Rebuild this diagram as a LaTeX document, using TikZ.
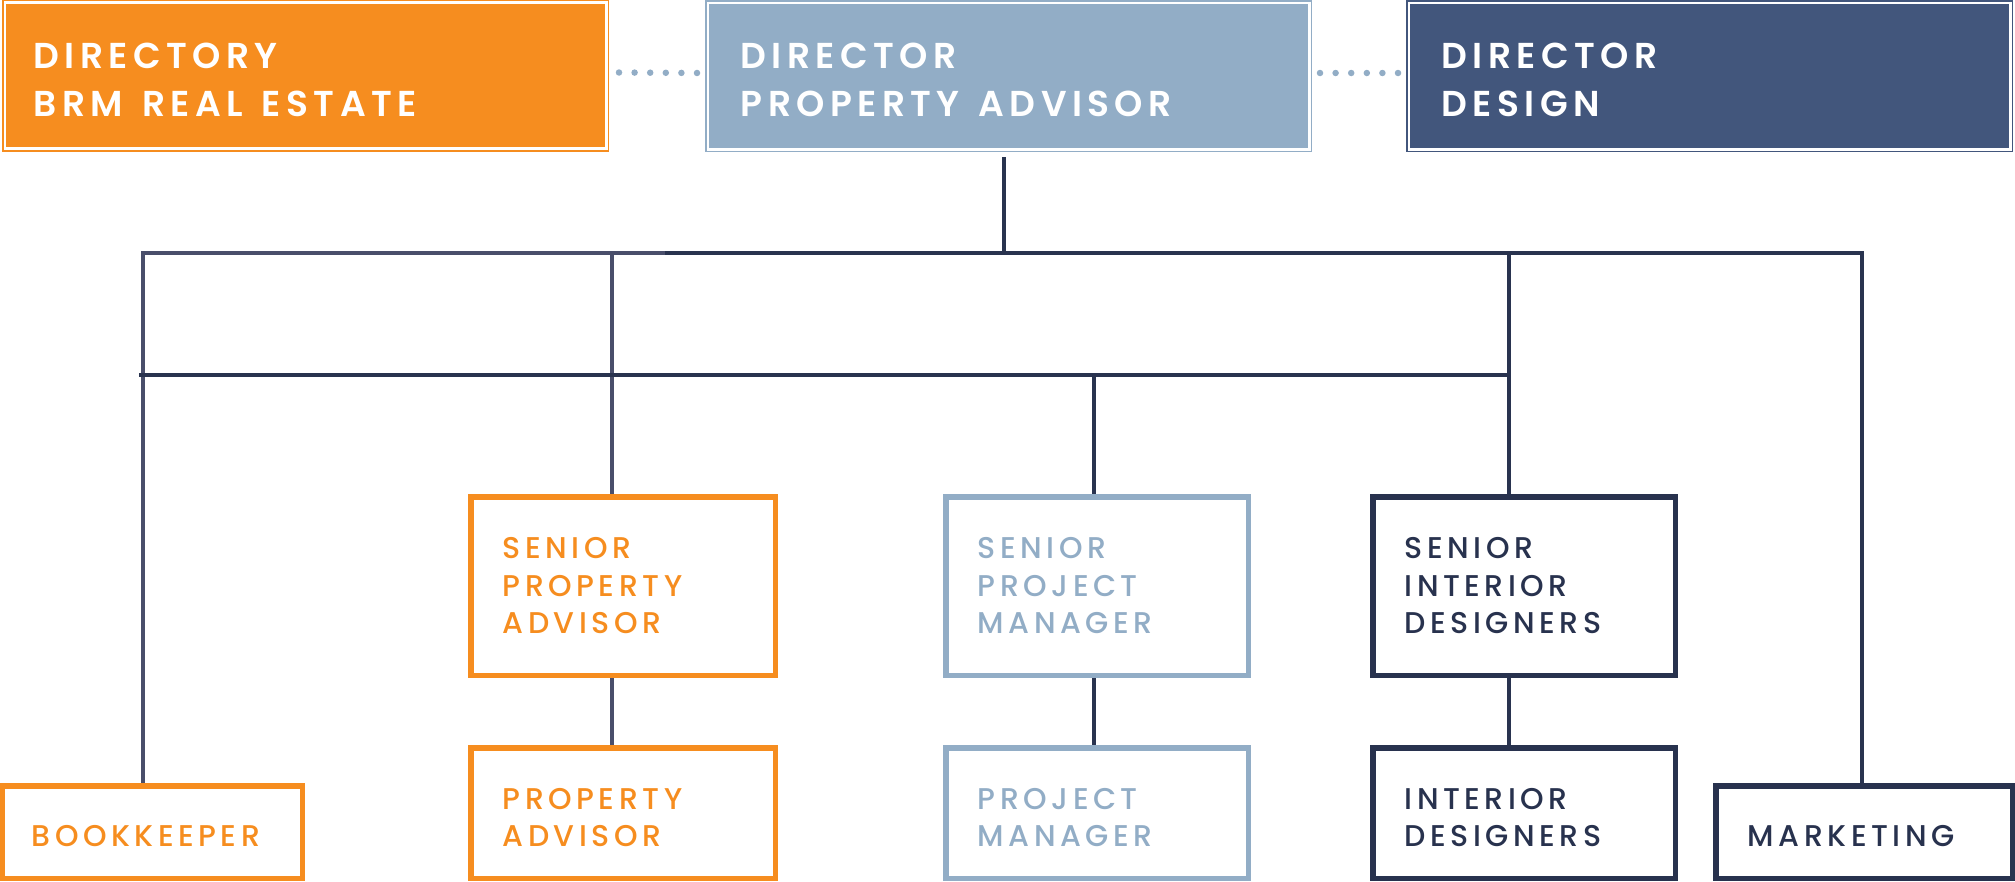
\documentclass[tikz,border=0pt]{standalone}
\usepackage{fontspec}
\setmainfont{Poppins}
\newfontfamily\hfont{Poppins SemiBold}[LetterSpace=15]
\newfontfamily\bfont{Poppins Medium}[LetterSpace=15]
\definecolor{corange}{HTML}{F68D1F}
\definecolor{clblue}{HTML}{92ADC6}
\definecolor{cdblue}{HTML}{42567C}
\definecolor{cnavy}{HTML}{28324E}
\definecolor{cline}{HTML}{29334F}
\definecolor{clinel}{HTML}{494E6B}
\newcommand{\lift}[1]{\rule{0pt}{#1}}
\newcommand{\wgap}{\hspace{0.53em}}
\tikzset{
  topbox/.style={draw=#1, line width=1.5pt, fill=white, inner xsep=35pt,
    minimum width=605.5pt, minimum height=150.5pt, text width=535.5pt, align=left,
    text=white, font={\hfont\fontsize{36}{48}\selectfont},
    path picture={\fill[#1] ([shift={(3.5pt,3.5pt)}]path picture bounding box.south west)
      rectangle ([shift={(-3.5pt,-3.5pt)}]path picture bounding box.north east);}},
  rolebox/.style={draw=#1, text=#1, line width=5.5pt, fill=white, inner xsep=32pt,
    align=left, font={\bfont\fontsize{30}{37.5}\selectfont}},
  tall/.style={minimum height=178.5pt},
  mid/.style={minimum height=130.5pt},
  low/.style={minimum height=92.5pt},
  conn/.style={draw=cline, line width=3.5pt},
  connl/.style={draw=clinel, line width=3.5pt},
  bar/.style={line width=4pt},
  dotline/.style={draw=clblue, line width=6.5pt, line cap=round, dash pattern=on 0pt off 15.6pt},
}
\begin{document}
\begin{tikzpicture}[x=1pt,y=-1pt]
\useasboundingbox (0,0) rectangle (2015,881);
% top row
\node[topbox=corange, inner xsep=31pt, text width=543.5pt] (dre) at (305.5,75.5) {\lift{33.5pt}DIRECTORY\\BRM\wgap REAL\wgap ESTATE};
\node[topbox=clblue] (dpa) at (1008.5,76) {\lift{33.5pt}DIRECTOR\\PROPERTY\wgap ADVISOR};
\node[topbox=cdblue] (dd) at (1709.5,76) {\lift{33.5pt}DIRECTOR\\DESIGN};
\draw[dotline] ([xshift=10pt,yshift=3pt]dre.east) -- ([xshift=-5pt,yshift=3pt]dpa.west);
\draw[dotline] ([xshift=8pt,yshift=3pt]dpa.east) -- ([xshift=-6pt,yshift=3pt]dd.west);
% role boxes
\node[rolebox=corange, tall, minimum width=304.5pt, text width=240.5pt] (spa) at (623,586) {SENIOR\\PROPERTY\\ADVISOR};
\node[rolebox=corange, mid, minimum width=304.5pt, text width=240.5pt] (pa) at (623,813) {\lift{30.5pt}PROPERTY\\ADVISOR};
\node[rolebox=clblue, tall, minimum width=302.5pt, text width=238.5pt] (spm) at (1097,586) {SENIOR\\PROJECT\\MANAGER};
\node[rolebox=clblue, mid, minimum width=302.5pt, text width=238.5pt] (pm) at (1097,813) {\lift{30.5pt}PROJECT\\MANAGER};
\node[rolebox=cnavy, tall, minimum width=302.5pt, text width=238.5pt] (sid) at (1524,586) {SENIOR\\INTERIOR\\DESIGNERS};
\node[rolebox=cnavy, mid, minimum width=302.5pt, text width=238.5pt] (idz) at (1524,813) {\lift{30.5pt}INTERIOR\\DESIGNERS};
\node[rolebox=corange, low, minimum width=300.5pt, text width=240.5pt, inner xsep=28pt] (bk) at (152,832) {\lift{28.5pt}BOOKKEEPER};
\node[rolebox=cnavy, low, minimum width=296.5pt, text width=232.5pt] (mk) at (1864,832) {\lift{28.5pt}MARKETING};
% connectors
\coordinate (hub) at (1004,253);
\coordinate (tl) at (143,253);
\coordinate (tsplit) at (665,253);
\coordinate (t2) at (612,253);
\coordinate (t4) at (1509,253);
\coordinate (tr) at (1862,253);
\coordinate (ml) at (139,375);
\coordinate (m3) at (1094,375);
\coordinate (mr) at (1509,375);
\draw[conn] ([xshift=-4.5pt,yshift=-5pt]dpa.south) -- (hub);
\draw[connl] (tl) -- (bk.north -| tl);
\draw[connl] (t2) -- (spa.north -| t2);
\draw[conn] (t4) -- (sid.north -| t4);
\draw[conn] (tr) -- (mk.north -| tr);
\draw[conn] (m3) -- (spm.north -| m3);
\draw[connl] (spa.south -| t2) -- (pa.north -| t2);
\draw[conn] (spm.south -| m3) -- (pm.north -| m3);
\draw[conn] (sid.south -| t4) -- (idz.north -| t4);
\draw[connl, bar] ([xshift=-1.75pt]tl) -- (tsplit);
\draw[conn, bar] (tsplit) -- ([xshift=1.75pt]tr);
\draw[conn, bar] (ml) -- ([xshift=1.75pt]mr);
\end{tikzpicture}
\end{document}
